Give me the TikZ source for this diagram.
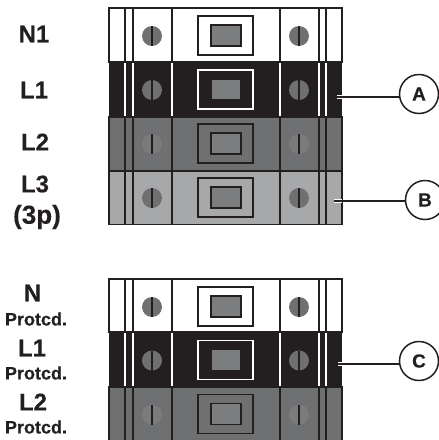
\documentclass[tikz,border=0pt]{standalone}
\usepackage{fontspec}
\setmainfont{Liberation Sans}
\newfontfamily\heavy[FakeBold=0.3]{Liberation Sans Bold}
\definecolor{ink}{HTML}{231F20}
\definecolor{midg}{HTML}{6F7071}
\definecolor{lightg}{HTML}{A7A8AA}
\definecolor{screwg}{HTML}{6F7071}
\definecolor{faintg}{HTML}{7A7B7C}
\definecolor{wing}{HTML}{7C7D7E}
\tikzset{
  x=1pt,y=-1pt,
  phase/.style={font=\heavy\fontsize{24}{24}\selectfont,text=ink,inner sep=0pt},
  wide/.style={font=\heavy\fontsize{26}{26}\selectfont,text=ink,inner sep=0pt},
  prot/.style={font=\heavy\fontsize{18}{18}\selectfont,text=ink,inner sep=0pt},
  callout/.style={circle,draw=ink,fill=white,line width=1.5pt,minimum size=39pt,inner sep=0pt,font=\heavy\fontsize{19}{19}\selectfont,text=ink},
  lead/.style={draw=ink,line width=1.5pt},
  halo/.style={draw=white,line width=3.6pt},
}
% top, bottom, centre, background, line colour, screw colour, window colour, window line colour
\newcommand{\termrow}[8]{%
  \fill[#4] (109,#1) rectangle (342,#2);
  \foreach \xv in {125,133,172,280,319,326}
    \draw[#5,line width=1.4pt] (\xv,#1) -- (\xv,#2);
  \draw[#5,line width=1.5pt] (198,#3-19.5) rectangle (253,#3+19.5);
  \draw[#8,fill=#7,line width=1.5pt] (211,#3-10.5) rectangle (241,#3+10.5);
  \foreach \xv in {152,299}{
    \fill[#6] (\xv,#3+0.5) circle (10);
    \draw[ink,line width=1.3pt] (\xv,#3-9.5) -- (\xv,#3+10.5);
  }%
}
\begin{document}
\begin{tikzpicture}
\useasboundingbox (0,0) rectangle (439,440);
\fill[white] (0,0) rectangle (439,440);
% upper block
\termrow{8}{62}{35.5}{white}{ink}{screwg}{wing}{ink}
\termrow{117}{171}{143.5}{midg}{ink}{faintg}{wing}{ink}
\termrow{171}{224.5}{197.5}{lightg}{ink}{screwg}{wing}{ink}
\termrow{62}{117}{89.5}{ink}{white}{screwg}{wing}{ink}
\draw[ink,line width=1.4pt] (109,8) rectangle (342,62);
\draw[ink,line width=1.4pt] (109,117) rectangle (342,171) (109,171) rectangle (342,224.5);
% lower block
\termrow{279}{332}{306.5}{white}{ink}{screwg}{wing}{ink}
\termrow{387}{441}{414}{midg}{ink}{faintg}{wing}{ink}
\termrow{332}{387}{360}{ink}{white}{screwg}{wing}{ink}
\draw[ink,line width=1.4pt] (109,279) rectangle (342,332);
\draw[ink,line width=1.4pt] (109,387) rectangle (342,442);
% labels
\node[phase] (n1) at (34,34) {N1};
\node[phase] (l1) at (34,90) {L1};
\node[phase] (l2) at (35,142) {L2};
\node[phase] (l3) at (35,184) {L3};
\node[wide] (p3) at (37,217) {(3p)};
\node[phase] (n) at (32.5,293) {N};
\node[prot] (pn) at (36,319) {Protcd.};
\node[phase] (lp1) at (32,348) {L1};
\node[prot] (p1) at (36,373) {Protcd.};
\node[phase] (lp2) at (33,402) {L2};
\node[prot] (p2) at (36,427) {Protcd.};
% callouts
\node[callout] (A) at (419,94) {A};
\node[callout] (B) at (425,200) {B};
\node[callout] (C) at (419,361) {C};
\coordinate (a0) at (337,97);
\coordinate (b0) at (334,201);
\coordinate (c0) at (338,364);
\draw[halo] (a0) -- (342,97);
\draw[halo] (b0) -- (342,201);
\draw[halo] (c0) -- (342,364);
\draw[lead] (a0) -- (A.west |- a0);
\draw[lead] (b0) -- (B.west |- b0);
\draw[lead] (c0) -- (C.west |- c0);
\end{tikzpicture}
\end{document}
